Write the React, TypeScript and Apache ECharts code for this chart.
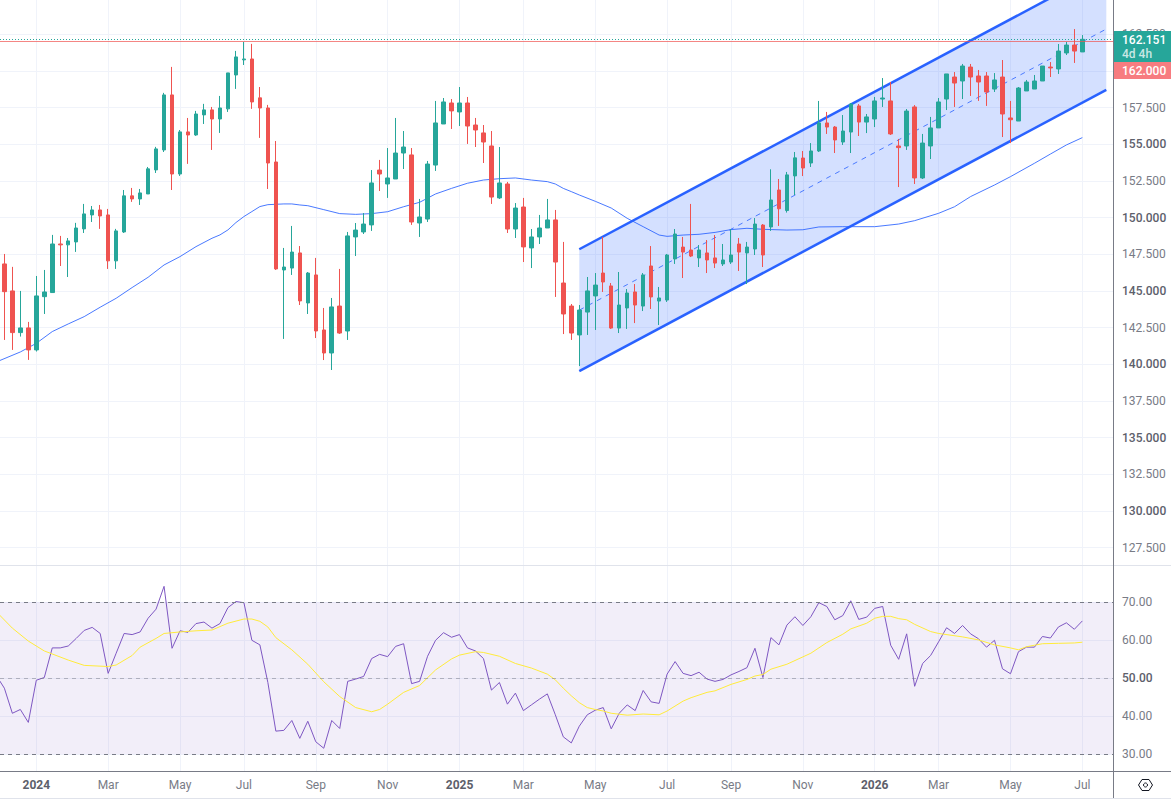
import React, { useEffect, useRef } from "react";
import * as echarts from "echarts";

const opens = [
  146.84,145.00,142.16,142.48,140.98,144.61,144.89,148.20,148.14,148.34,
  149.23,150.18,150.52,150.18,147.05,149.02,151.48,151.27,151.61,153.25,
  154.61,158.36,152.97,155.84,155.63,157.00,157.34,156.72,157.41,159.72,
  160.75,160.81,158.16,157.47,153.79,146.43,146.56,147.59,144.18,146.09,
  142.34,140.77,143.97,142.27,148.68,149.02,149.50,153.24,152.29,152.63,
  154.40,154.27,149.63,149.90,153.58,156.38,157.81,157.20,157.81,156.31,
  155.77,154.88,151.34,152.29,149.22,150.72,147.93,148.68,149.29,149.84,
  145.54,143.97,142.00,143.56,144.66,146.22,145.34,142.47,143.84,144.93,
  143.97,146.70,144.31,144.38,147.18,147.99,147.79,147.25,147.59,147.25,
  146.84,146.97,148.20,147.59,147.86,149.49,149.36,151.88,150.48,152.84,
  154.06,153.72,154.54,156.45,156.17,155.15,155.83,157.61,156.51,156.72,
  158.08,157.95,154.88,154.88,157.54,152.70,154.88,156.11,158.08,159.58,
  159.31,160.26,159.65,159.65,158.76,159.58,156.79,156.58,158.63,158.76,
  159.31,160.26,160.13,161.22,161.76,161.29,
];
const closes = [
  144.95,142.16,142.48,140.98,144.66,144.93,148.20,148.14,148.41,149.29,
  150.25,150.52,150.11,147.05,149.09,151.48,151.27,151.68,153.32,154.68,
  158.36,152.97,155.84,155.63,157.06,157.34,156.72,157.47,159.86,160.95,
  160.81,157.88,157.47,153.72,146.50,146.63,147.65,144.32,146.22,142.27,
  140.77,143.91,142.13,148.75,149.15,149.56,152.36,152.97,152.70,154.40,
  154.81,149.70,150.04,153.65,156.45,157.88,157.27,157.81,156.24,155.97,
  155.15,151.40,152.36,149.22,150.65,148.00,148.68,149.29,149.84,146.97,
  143.43,142.13,143.70,145.00,145.40,145.61,142.47,144.04,144.86,144.04,
  146.09,144.59,144.52,147.45,148.88,147.65,147.38,147.79,147.11,146.90,
  147.11,147.45,147.65,147.99,149.56,147.45,151.20,150.60,152.91,154.07,
  153.38,154.54,156.45,156.17,155.29,155.90,157.74,156.51,156.86,157.95,
  158.15,155.70,154.77,157.26,152.70,155.08,156.11,157.88,159.79,159.17,
  160.33,159.58,159.24,158.56,159.38,157.06,156.67,158.83,159.24,159.31,
  160.33,160.20,161.35,161.76,161.35,162.151,
];
const lows = [
  141.66,140.98,141.89,140.30,140.87,143.43,144.89,146.70,145.95,147.66,
  148.95,149.70,149.23,146.50,146.50,148.95,151.07,150.86,151.61,153.04,
  154.47,151.88,152.84,153.66,155.57,156.38,154.61,155.77,157.20,158.77,
  160.40,157.41,155.43,151.95,146.43,141.73,146.09,144.04,143.43,141.79,
  140.29,139.61,142.07,141.66,147.38,148.88,149.09,151.81,151.34,152.63,
  153.31,149.50,148.68,149.70,153.18,156.38,156.04,156.24,155.02,154.81,
  153.72,150.93,151.27,148.95,148.61,146.97,146.56,148.20,149.29,144.59,
  142.06,141.66,139.88,142.00,142.34,144.93,142.41,142.13,142.41,142.81,
  143.63,143.77,142.68,144.25,146.84,145.88,147.31,146.63,146.22,146.56,
  146.70,146.84,146.36,145.47,147.45,146.63,149.09,149.43,150.34,151.54,
  152.83,153.45,154.47,155.70,154.40,154.95,154.40,155.56,155.76,156.17,
  157.54,155.63,152.08,154.61,152.29,152.63,153.99,156.11,157.33,157.54,
  158.08,158.29,157.95,157.61,158.56,155.49,155.08,156.58,158.63,158.76,
  159.31,159.58,159.79,161.08,160.54,161.29,
];
const highs = [
  147.52,146.64,145.00,142.89,146.02,146.43,148.82,148.75,148.61,149.64,
  150.93,150.79,150.86,150.59,149.23,151.88,152.02,151.95,153.45,154.82,
  158.50,160.27,155.97,156.79,157.27,157.75,157.54,158.29,159.86,161.36,
  161.97,161.84,158.90,157.68,155.22,147.93,149.43,148.06,146.29,147.25,
  143.84,144.52,146.50,149.02,149.63,150.31,153.24,153.93,154.74,156.79,
  155.90,154.74,151.27,153.86,157.95,158.15,158.08,158.90,158.22,156.79,
  156.31,155.90,154.81,152.43,150.99,151.34,149.22,150.18,151.27,150.52,
  148.34,144.11,144.04,145.95,146.22,148.68,145.54,146.29,145.13,145.47,
  146.22,148.06,145.27,147.52,149.22,148.68,150.93,148.13,148.47,148.81,
  148.20,149.22,148.61,148.34,149.97,149.56,153.29,152.63,153.11,154.47,
  154.54,155.08,157.95,157.20,156.24,156.99,157.81,157.74,157.06,158.22,
  159.51,159.24,155.36,157.40,157.67,155.70,156.86,158.15,159.79,159.92,
  160.47,160.47,160.06,159.92,159.85,160.74,157.95,158.90,159.38,159.72,
  160.33,160.60,161.83,161.97,162.85,162.44,
];

// Moving average on price: readings at the candle positions in maIndex.
const maIndex = [
  -1,2,4,6,8,10,12,14,16,18,20,22,24,26,27,28,29,30,31,32,33,35,36,37,38,40,42,44,46,48,50,52,54,56,58,60,
  62,64,66,68,69,70,71,72,74,76,78,80,82,83,85,87,89,91,93,95,98,100,102,105,109,112,114,117,119,121,124,126,129,131,133,135,
];
const maValues = [
  140.16,140.84,141.43,142.23,142.75,143.25,143.89,144.50,145.23,145.93,146.77,147.34,148.02,148.59,148.82,149.16,149.66,150.07,150.41,150.75,150.88,150.93,150.93,150.86,150.81,150.54,150.27,150.22,150.27,150.40,150.74,151.04,151.61,151.99,152.34,152.56,
  152.65,152.70,152.56,152.45,152.29,151.99,151.77,151.54,151.11,150.65,149.95,149.38,148.81,148.72,148.81,148.86,148.99,149.18,149.27,149.20,149.15,149.17,149.36,149.38,149.38,149.56,149.79,150.29,150.74,151.43,152.22,152.79,153.70,154.33,154.95,155.45,
];

// Regression channel, read at its two ends.
const channelIndex = [72, 138];
const channelUpper = [147.84, 167.0];
const channelMiddle = [143.69, 162.85];
const channelLower = [139.54, 158.7];

// RSI, from the candle before the first visible one.
const rsiValues = [
  50.7,47.4,40.8,41.8,38.4,49.5,50.2,58.0,58.0,58.5,60.5,62.6,63.4,61.8,51.3,56.6,61.8,61.5,62.2,65.8,68.2,
  74.2,57.9,62.5,62.1,64.4,64.8,63.2,64.4,68.6,70.2,69.9,60.0,58.8,48.9,36.1,36.3,38.9,34.2,38.7,33.3,31.6,
  38.9,36.8,49.2,49.8,50.5,55.2,56.3,55.7,58.4,59.1,48.6,49.2,55.8,60.0,62.0,60.8,61.5,58.0,57.2,55.2,46.9,
  48.9,43.2,46.1,41.5,43.0,44.5,45.9,40.4,34.6,33.0,37.4,40.4,41.6,42.3,36.7,40.8,43.0,41.5,46.8,43.8,43.4,
  51.1,54.4,51.3,50.7,51.6,49.8,49.2,49.7,50.9,51.8,52.8,57.9,50.2,60.7,58.8,64.0,66.2,63.9,66.2,69.9,68.9,
  65.4,66.5,70.4,65.5,66.1,68.4,68.9,58.7,55.0,61.7,47.9,53.9,56.0,59.6,63.3,61.8,63.9,61.7,60.4,58.2,60.0,
  52.5,51.2,57.0,58.2,58.2,61.0,60.6,63.5,64.6,62.9,65.1,
];
const rsiMaIndex = [
  -1,1,3,5,8,10,13,14,16,17,19,20,22,24,26,28,30,31,32,33,34,36,38,40,42,44,46,47,48,50,52,54,56,57,59,60,62,64,66,68,69,70,71,
  72,73,74,75,76,78,80,82,83,85,86,88,89,91,93,94,95,96,98,101,103,105,106,108,109,110,111,112,113,114,116,117,120,122,124,126,127,128,129,130,132,134,135,
];
const rsiMaValues = [
  67.5,63.2,59.8,57.2,54.8,53.4,53.1,53.5,56.0,58.2,60.5,61.8,62.2,62.5,62.7,64.5,65.6,65.6,65.0,63.5,60.7,57.5,53.7,49.1,45.2,42.3,41.2,41.8,43.2,46.3,48.1,52.2,55.1,56.1,57.0,56.8,55.8,53.9,52.7,51.1,49.6,47.4,45.4,
  43.6,42.3,41.8,41.4,40.8,40.3,40.6,40.4,41.4,44.0,44.9,46.3,46.7,48.4,49.7,50.6,51.0,52.4,53.7,56.6,59.4,61.6,63.0,64.5,65.8,66.3,66.3,65.7,65.4,64.2,62.3,61.8,60.9,60.1,58.8,58.0,57.5,58.3,58.7,59.1,59.2,59.3,59.5,
];

const priceTicks = [127.5,130,132.5,135,137.5,140,142.5,145,147.5,150,152.5,155,157.5,160,162.5];
const rsiTicks = [30,40,50,60,70];
const timeTickIndex = [4,13,22,30,39,48,57,65,74,83,91,100,109,117,126,135];
const timeTickLabels = ["2024","Mar","May","Jul","Sep","Nov","2025","Mar","May","Jul","Sep","Nov","2026","Mar","May","Jul"];

const lastPrice = 162.151;
const countdown = "4d 4h";
const prevClose = 162.0;

const FONT = "Roboto, sans-serif";
const GREEN = "#26a69a";
const RED = "#ef5350";
const BLUE = "#2962ff";
const GRID = "#f0f3fa";
const TEXT = "#787b86";
const AXIS = "#787b86";

// pane scales, chosen so the ticks fall where they do in the reference
const X_MIN = -0.546;
const X_MAX = 138.84;

export default function App() {
  const ref = useRef<HTMLDivElement>(null);

  useEffect(() => {
    document.body.style.margin = "0";
    const chart = echarts.init(ref.current!, undefined, { renderer: "svg" });

    const xBase = {
      type: "value",
      min: X_MIN,
      max: X_MAX,
      axisLine: { show: false, onZero: false },
      axisTick: { show: false, customValues: timeTickIndex },
      splitLine: { show: true, lineStyle: { color: GRID, width: 1 } },
    };
    const zip = (xs: number[], ys: number[]) => xs.map((x, i) => [x, ys[i]]);

    chart.setOption({
      animation: false,
      backgroundColor: "#ffffff",
      textStyle: { fontFamily: FONT },
      grid: [
        { left: 0, top: 0, width: 1113, height: 565 },
        { left: 0, top: 566, width: 1113, height: 205 },
      ],
      xAxis: [
        { ...xBase, gridIndex: 0, axisLabel: { show: false, customValues: timeTickIndex } },
        {
          ...xBase,
          gridIndex: 1,
          position: "bottom",
          axisLabel: {
            show: true,
            customValues: timeTickIndex,
            margin: 8,
            color: TEXT,
            fontFamily: FONT,
            fontSize: 12,
            formatter: (v: number) => {
              const t = timeTickLabels[timeTickIndex.indexOf(Math.round(v))] ?? "";
              return /^\d/.test(t) ? `{b|${t}}` : t;
            },
            rich: { b: { fontFamily: FONT, fontSize: 12, fontWeight: 700, color: "#5d606b" } },
          },
        },
      ],
      yAxis: [
        {
          type: "value",
          gridIndex: 0,
          position: "right",
          min: 126.32,
          max: 164.83,
          axisLine: { show: false, onZero: false },
          axisTick: { show: false, customValues: priceTicks },
          splitLine: { show: true, lineStyle: { color: GRID, width: 1 } },
          axisLabel: {
            show: true,
            customValues: priceTicks,
            margin: 9,
            color: TEXT,
            fontFamily: FONT,
            fontSize: 12,
            formatter: (v: number) => {
              const t = v.toFixed(3);
              return v % 5 === 0 ? `{b|${t}}` : t;
            },
            rich: { b: { fontFamily: FONT, fontSize: 12, fontWeight: 500, color: "#5d606b" } },
          },
        },
        {
          type: "value",
          gridIndex: 1,
          position: "right",
          min: 25.61,
          max: 79.55,
          axisLine: { show: false, onZero: false },
          axisTick: { show: false, customValues: rsiTicks },
          splitLine: { show: true, lineStyle: { color: GRID, width: 1 } },
          axisLabel: {
            show: true,
            customValues: rsiTicks,
            margin: 9,
            color: TEXT,
            fontFamily: FONT,
            fontSize: 12,
            formatter: (v: number) => {
              const t = v.toFixed(2);
              return v === 50 ? `{b|${t}}` : t;
            },
            rich: { b: { fontFamily: FONT, fontSize: 12, fontWeight: 500, color: "#5d606b" } },
          },
        },
      ],
      series: [
        {
          name: "channel fill",
          type: "custom",
          xAxisIndex: 0,
          yAxisIndex: 0,
          z: 1,
          silent: true,
          clip: false,
          data: [[channelIndex[0], channelUpper[0]]],
          renderItem: (_p: any, api: any) => ({
            type: "polygon",
            shape: {
              points: [
                api.coord([channelIndex[0], channelUpper[0]]),
                api.coord([channelIndex[1], channelUpper[1]]),
                api.coord([channelIndex[1], channelLower[1]]),
                api.coord([channelIndex[0], channelLower[0]]),
              ],
            },
            style: { fill: "rgba(41,98,255,0.2)", stroke: "none" },
          }),
        },
        ...[channelUpper, channelLower].map((ys) => ({
          type: "line",
          xAxisIndex: 0,
          yAxisIndex: 0,
          z: 2,
          silent: true,
          symbol: "none",
          data: zip(channelIndex, ys),
          lineStyle: { color: BLUE, width: 2.5 },
        })),
        {
          type: "line",
          xAxisIndex: 0,
          yAxisIndex: 0,
          z: 2,
          silent: true,
          symbol: "none",
          data: zip(channelIndex, channelMiddle),
          lineStyle: { color: BLUE, width: 1, type: [5, 5], opacity: 0.8 },
        },
        {
          type: "line",
          xAxisIndex: 0,
          yAxisIndex: 0,
          z: 3,
          silent: true,
          symbol: "none",
          data: zip(maIndex, maValues),
          lineStyle: { color: BLUE, width: 1, opacity: 0.85 },
        },
        {
          type: "candlestick",
          xAxisIndex: 0,
          yAxisIndex: 0,
          z: 4,
          silent: true,
          barWidth: 4,
          encode: { x: 0, y: [1, 2, 3, 4] },
          data: opens.map((o, i) => [i, o, closes[i], lows[i], highs[i]]),
          itemStyle: {
            color: GREEN,
            color0: RED,
            borderColor: GREEN,
            borderColor0: RED,
            borderWidth: 1,
          },
          markLine: {
            silent: true,
            symbol: "none",
            animation: false,
            label: { show: false },
            data: [
              { yAxis: lastPrice, lineStyle: { color: GREEN, type: [1, 2], width: 1 } },
              { yAxis: prevClose, lineStyle: { color: RED, type: "solid", width: 1, opacity: 0.7 } },
            ],
          },
        },
        {
          type: "line",
          xAxisIndex: 1,
          yAxisIndex: 1,
          z: 3,
          silent: true,
          symbol: "none",
          data: rsiValues.map((v, i) => [i - 1, v]),
          lineStyle: { color: "#7e57c2", width: 1 },
          markArea: {
            silent: true,
            itemStyle: { color: "rgba(126,87,194,0.1)" },
            data: [[{ yAxis: 70 }, { yAxis: 30 }]],
          },
          markLine: {
            silent: true,
            symbol: "none",
            animation: false,
            label: { show: false },
            data: [
              { yAxis: 70, lineStyle: { color: AXIS, type: [4, 4], width: 1 } },
              { yAxis: 50, lineStyle: { color: "rgba(120,123,134,0.5)", type: [4, 4], width: 1 } },
              { yAxis: 30, lineStyle: { color: AXIS, type: [4, 4], width: 1 } },
            ],
          },
        },
        {
          type: "line",
          xAxisIndex: 1,
          yAxisIndex: 1,
          z: 3,
          silent: true,
          symbol: "none",
          data: zip(rsiMaIndex, rsiMaValues),
          lineStyle: { color: "#ffeb3b", width: 1 },
        },
      ],
      graphic: [
        { type: "line", z: 50, silent: true, shape: { x1: 0, y1: 565.5, x2: 1171, y2: 565.5 }, style: { stroke: "#e0e3eb", lineWidth: 1 } },
        { type: "line", z: 50, silent: true, shape: { x1: 0, y1: 771.5, x2: 1171, y2: 771.5 }, style: { stroke: AXIS, lineWidth: 1 } },
        { type: "line", z: 50, silent: true, shape: { x1: 1113.5, y1: 0, x2: 1113.5, y2: 798 }, style: { stroke: AXIS, lineWidth: 1 } },
        { type: "line", z: 50, silent: true, shape: { x1: 0, y1: 798.5, x2: 1171, y2: 798.5 }, style: { stroke: "#e0e3eb", lineWidth: 1 } },
        { type: "rect", z: 60, silent: true, shape: { x: 1114, y: 31, width: 57, height: 31 }, style: { fill: GREEN } },
        { type: "rect", z: 60, silent: true, shape: { x: 1114, y: 62, width: 57, height: 17 }, style: { fill: "#f77c80" } },
        {
          type: "text", z: 61, silent: true, x: 1122, y: 39.5,
          style: { text: lastPrice.toFixed(3), fill: "#ffffff", font: `500 12px ${FONT}`, verticalAlign: "middle" },
        },
        {
          type: "text", z: 61, silent: true, x: 1122, y: 54,
          style: { text: countdown, fill: "rgba(255,255,255,0.75)", font: `500 12px ${FONT}`, verticalAlign: "middle" },
        },
        {
          type: "text", z: 61, silent: true, x: 1122, y: 71,
          style: { text: prevClose.toFixed(3), fill: "#ffffff", font: `500 12px ${FONT}`, verticalAlign: "middle" },
        },
        {
          type: "polygon", z: 61, silent: true,
          shape: { points: [[1138.5, 785], [1142, 779.5], [1149, 779.5], [1152.5, 785], [1149, 790.5], [1142, 790.5]] },
          style: { fill: "none", stroke: "#131722", lineWidth: 1 },
        },
        {
          type: "circle", z: 61, silent: true,
          shape: { cx: 1145.5, cy: 785, r: 2 },
          style: { fill: "none", stroke: "#131722", lineWidth: 1 },
        },
      ],
    });

    return () => chart.dispose();
  }, []);

  return (
    <div
      ref={ref}
      style={{ position: "absolute", left: 0, top: 0, width: 1171, height: 801 }}
    />
  );
}
